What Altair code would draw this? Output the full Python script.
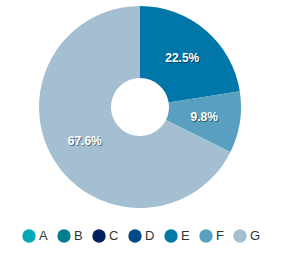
import altair as alt
import pandas as pd

categories = ["A", "B", "C", "D", "E", "F", "G"]
values = [0, 0, 0, 0, 22.5, 9.8, 67.6]
colors = ["#00a9b5", "#00808f", "#002060", "#004a87", "#0077a8", "#589fc0", "#a3bfd1"]

df = pd.DataFrame({"cat": categories, "val": values, "ord": list(range(len(categories)))})
df["label"] = [f"{v:.1f}%" if v > 0 else "" for v in values]

CX, CY = 140, 107
color = alt.Color(
    "cat:N",
    scale=alt.Scale(domain=categories, range=colors),
    legend=alt.Legend(
        title=None, orient="none", direction="horizontal", columns=7,
        legendX=22, legendY=229, symbolType="circle", symbolSize=180,
        symbolStrokeWidth=0, labelFontSize=13, labelFont="Liberation Sans",
        labelColor="#333333", columnPadding=9, labelOffset=3,
    ),
)

base = alt.Chart(df).encode(
    theta=alt.Theta("val:Q", stack=True),
    order=alt.Order("ord:Q"),
)

arcs = base.mark_arc(radius=101, radius2=29, x=CX, y=CY, stroke="white", strokeWidth=0).encode(color=color)

txt = base.transform_filter("datum.val > 0")
shadow = txt.mark_text(radius=65, x=CX + 1, y=CY + 1, font="Liberation Sans", fontSize=12,
                       fontWeight="bold", color="#000000", opacity=0.45).encode(text="label:N")
labels = txt.mark_text(radius=65, x=CX, y=CY, font="Liberation Sans", fontSize=12,
                       fontWeight="bold", color="white").encode(text="label:N")

chart = alt.layer(arcs, shadow, labels).properties(
    width=282, height=254, autosize=alt.AutoSizeParams(type="none"), padding=0
).configure_view(stroke=None)

chart.save("out.html", embed_options={"renderer": "svg", "actions": False})
